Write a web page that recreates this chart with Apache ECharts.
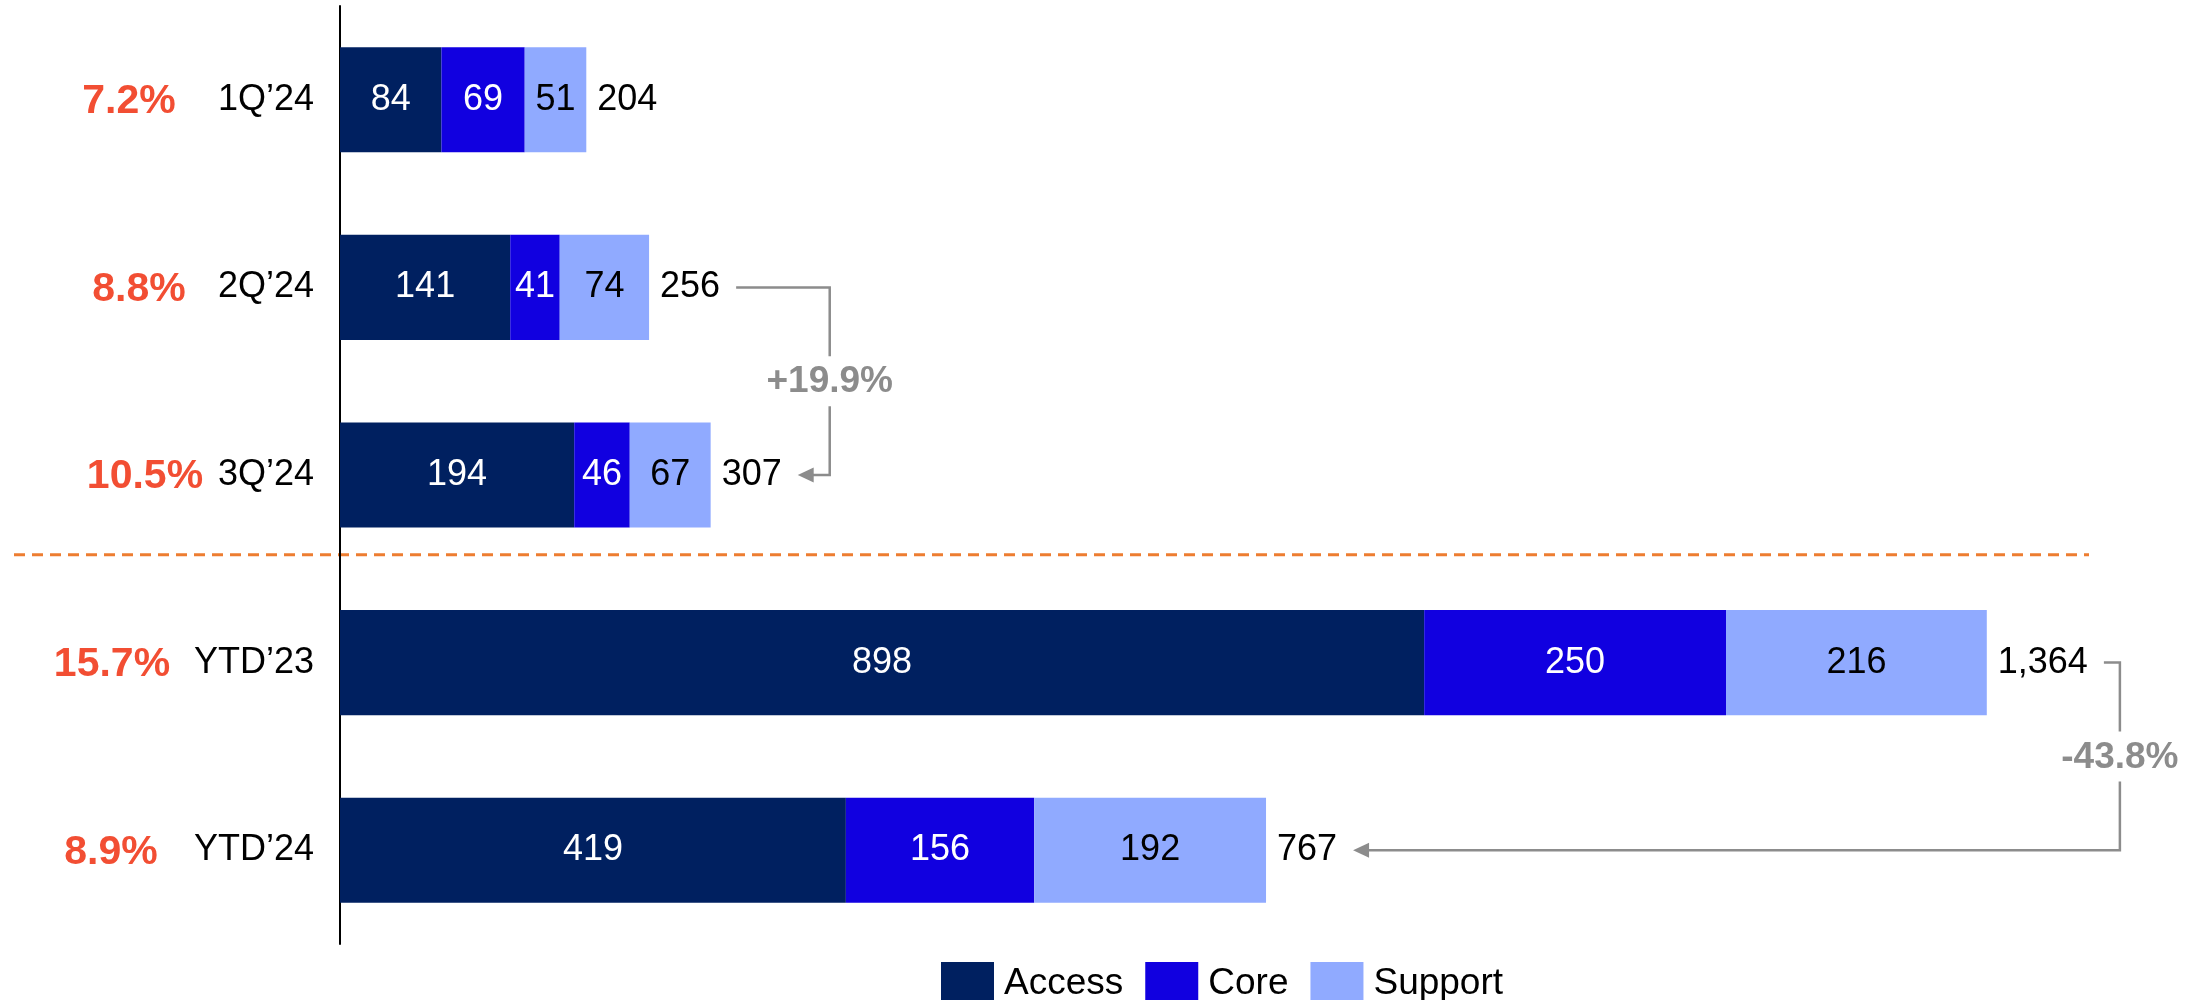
<!DOCTYPE html>
<html>
<head>
<meta charset="utf-8">
<script src="https://cdn.jsdelivr.net/npm/echarts@6/dist/echarts.min.js"></script>
<style>
  html, body { margin: 0; padding: 0; background: #ffffff; }
  #chart { width: 2195px; height: 1000px; }
</style>
</head>
<body>
<div id="chart"></div>
<script>
// Revenue by segment, per quarter and year to date
const categories = ['1Q’24', '2Q’24', '3Q’24', 'YTD’23', 'YTD’24'];
const access = [84, 141, 194, 898, 419];
const core = [69, 41, 46, 250, 156];
const support = [51, 74, 67, 216, 192];
const shareLabels = ['7.2%', '8.8%', '10.5%', '15.7%', '8.9%'];
const changes = [
  { from: 1, to: 2, text: '+19.9%' },
  { from: 3, to: 4, text: '-43.8%' }
];

const totals = categories.map((_, i) => access[i] + core[i] + support[i]);

// Layout (pixels)
const FONT = '"Liberation Sans", Arial, Helvetica, sans-serif';
const shareCenterX = [129, 139, 145, 112, 111];
const bracketReach = [32, 16];
const GREY = '#8C8C8C';
const RED = '#F24E33';

const chart = echarts.init(document.getElementById('chart'), null, { renderer: 'canvas' });

function segLabel(color) {
  return {
    show: true,
    position: 'inside',
    color: color,
    fontFamily: FONT,
    fontSize: 36
  };
}

chart.setOption({
  animation: false,
  textStyle: { fontFamily: FONT },
  grid: { left: 340, top: 6, bottom: 56, right: 44, containLabel: false },
  xAxis: {
    type: 'value', min: 0, max: 1500, show: false,
    splitLine: { show: false }
  },
  yAxis: {
    type: 'category',
    inverse: true,
    data: categories,
    axisLine: { show: true, lineStyle: { color: '#000000', width: 2 } },
    axisTick: { show: false },
    axisLabel: { color: '#000000', fontSize: 36, fontFamily: FONT, margin: 26 }
  },
  legend: {
    data: ['Access', 'Core', 'Support'],
    left: 936, top: 957,
    icon: 'rect',
    itemWidth: 53, itemHeight: 43, itemGap: 22,
    selectedMode: false,
    textStyle: { fontSize: 37, color: '#000000', fontFamily: FONT, padding: [0, 0, 0, 5] }
  },
  series: [
    {
      name: 'Access', type: 'bar', stack: 'all', barWidth: '56%',
      data: access, itemStyle: { color: '#002060' },
      label: segLabel('#ffffff'), silent: true
    },
    {
      name: 'Core', type: 'bar', stack: 'all',
      data: core, itemStyle: { color: '#1100E0' },
      label: segLabel('#ffffff'), silent: true
    },
    {
      name: 'Support', type: 'bar', stack: 'all',
      data: support, itemStyle: { color: '#90AAFF' },
      label: segLabel('#000000'), silent: true
    },
    {
      name: 'Total', type: 'bar', stack: 'all',
      data: totals.map(() => 0), itemStyle: { color: 'transparent' },
      silent: true,
      label: {
        show: true, position: 'right', distance: 11,
        color: '#000000', fontFamily: FONT, fontSize: 36,
        formatter: p => totals[p.dataIndex].toLocaleString('en-US')
      }
    }
  ]
});

// Annotation layer: share labels, separator, change brackets
const ctx = document.createElement('canvas').getContext('2d');
ctx.font = '36px ' + FONT;
const textW = s => ctx.measureText(s).width;
const px = (v, i) => chart.convertToPixel({ gridIndex: 0 }, [v, i]);

const graphics = [];

shareLabels.forEach((s, i) => {
  const y = px(0, i)[1];
  graphics.push({
    type: 'text', silent: true,
    style: {
      x: shareCenterX[i], y: y + 2, text: s,
      fill: RED, font: 'bold 41px ' + FONT,
      textAlign: 'center', textVerticalAlign: 'middle'
    }
  });
});

// Separator between quarters and year-to-date rows
const sepY = (px(0, 2)[1] + px(0, 3)[1]) / 2 - 14;
graphics.push({
  type: 'line', silent: true,
  shape: { x1: 14, y1: sepY, x2: 2089, y2: sepY },
  style: { stroke: '#ED7D31', lineWidth: 3, lineDash: [11, 7] }
});

changes.forEach((c, k) => {
  const a = px(totals[c.from], c.from);
  const b = px(totals[c.to], c.to);
  const startX = a[0] + 11 + textW(totals[c.from].toLocaleString('en-US')) + 16;
  const tipX = b[0] + 11 + textW(totals[c.to].toLocaleString('en-US')) + 16;
  const vx = Math.max(startX, tipX) + bracketReach[k];
  const midY = (a[1] + b[1]) / 2;
  const gap = 25;
  const lineStyle = { stroke: GREY, lineWidth: 2.5, fill: null };
  graphics.push({
    type: 'polyline', silent: true,
    shape: { points: [[startX, a[1]], [vx, a[1]], [vx, midY - gap]] },
    style: lineStyle
  });
  graphics.push({
    type: 'polyline', silent: true,
    shape: { points: [[vx, midY + gap], [vx, b[1]], [tipX + 14, b[1]]] },
    style: lineStyle
  });
  graphics.push({
    type: 'polygon', silent: true,
    shape: { points: [[tipX, b[1]], [tipX + 16, b[1] - 7.5], [tipX + 16, b[1] + 7.5]] },
    style: { fill: GREY }
  });
  graphics.push({
    type: 'text', silent: true,
    style: {
      x: vx, y: midY + 1, text: c.text,
      fill: GREY, font: 'bold 37px ' + FONT,
      textAlign: 'center', textVerticalAlign: 'middle'
    }
  });
});

chart.setOption({ graphic: graphics });
</script>
</body>
</html>
